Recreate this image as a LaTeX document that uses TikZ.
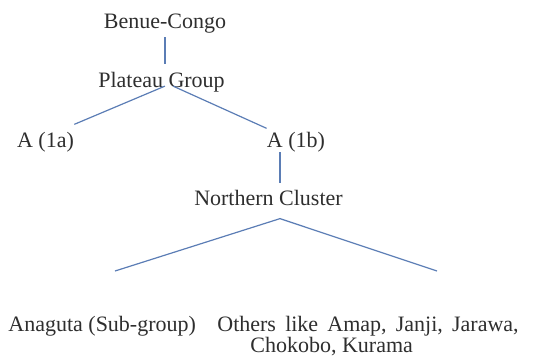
\documentclass[tikz,border=0pt]{standalone}
\usepackage{fontspec}
\setmainfont{Liberation Serif}
\usetikzlibrary{positioning}
\definecolor{branchblue}{HTML}{5B7DB5}
\tikzset{branch/.style = {draw=branchblue, line width=.6pt},
         lang/.style = {inner sep=0pt, text=black!82,
                        font=\fontsize{11}{10.4}\selectfont}}

\begin{document}
\begin{tikzpicture}[x=.5pt,y=-.5pt]
    \useasboundingbox (0,0) rectangle (560,355);

    \node[lang,anchor=base] (BC) at (165,28) {Benue-Congo};
    \node[lang,anchor=base] (PG) at (161.5,87) {Plateau Group};
    \node[lang,anchor=base] (A1a) at (45.5,147) {A (1a)};
    \node[lang,anchor=base] (A1b) at (296,147) {A (1b)};
    \node[lang,anchor=base] (NC) at (268.5,205) {Northern Cluster};
    \node[lang,anchor=base west] (AG) at (8,331) {Anaguta (Sub-group)};
    \node[lang,anchor=north west,align=left] (OT) at (217,316)
        {\spaceskip=4.6pt Others like Amap, Janji, Jarawa,\\
         \spaceskip=0pt\hspace*{16.5pt}Chokobo, Kurama};

    % free ends of the lower fork
    \coordinate (AGend) at (115,271);
    \coordinate (OTend) at (437,271);

    \draw[branch] ([yshift=-2pt]BC.south) -- ([yshift=3.5pt]BC.south |- PG.north);
    \draw[branch] ([xshift=1.75pt,yshift=3pt]PG.south) -- ([yshift=3.5pt]A1a.north east);
    \draw[branch] ([xshift=5.75pt,yshift=3pt]PG.south) -- ([yshift=1.5pt]A1b.north west);
    \draw[branch] ([xshift=-8pt]A1b.south) -- ++(0,31);
    \draw[branch] (AGend) -- ([xshift=5.75pt,yshift=-6.5pt]NC.south) -- (OTend);
\end{tikzpicture}
\end{document}
